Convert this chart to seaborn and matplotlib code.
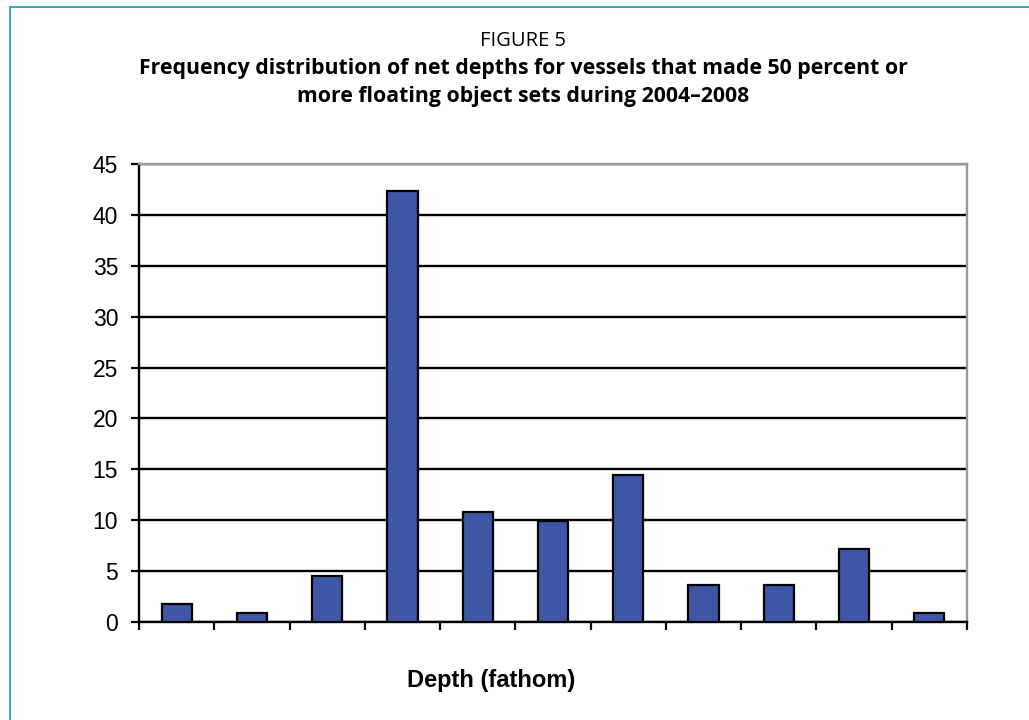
import matplotlib
matplotlib.use("Agg")
import matplotlib.pyplot as plt
from matplotlib.lines import Line2D
import numpy as np
import pandas as pd
import seaborn as sns

# Net depth classes (ordered bins) and share of vessels in each, percent
depth_bins = ["1", "2", "3", "4", "5", "6", "7", "8", "9", "10", "11"]
vessel_share = [1.8, 0.9, 4.5, 42.3, 10.8, 9.9, 14.4, 3.6, 3.6, 7.2, 0.9]
y_ticks = [0, 5, 10, 15, 20, 25, 30, 35, 40, 45]

title_top = "FIGURE 5"
title_lines = ["Frequency distribution of net depths for vessels that made 50 percent or",
               "more floating object sets during 2004\u20132008"]
x_label = "Depth (fathom)"

sns.set_style("white")
plt.rcParams["font.family"] = ["Liberation Sans", "DejaVu Sans"]
plt.rcParams["text.color"] = "black"
plt.rcParams["axes.labelcolor"] = "black"
plt.rcParams["xtick.color"] = "black"
plt.rcParams["ytick.color"] = "black"

df = pd.DataFrame({"depth": depth_bins, "share": vessel_share})

fig = plt.figure(figsize=(10.29, 7.2), dpi=100)
ax = fig.add_axes([139 / 1029, 1 - 622 / 720, (967 - 139) / 1029, (622 - 164) / 720])

sns.barplot(data=df, x="depth", y="share", color="#3D56A5", saturation=1,
            width=0.4, edgecolor="black", linewidth=1.6, ax=ax, zorder=3)

ax.set_xlim(-0.5, len(depth_bins) - 0.5)
ax.set_ylim(0, 45)
ax.set_yticks(y_ticks)
ax.set_yticklabels([str(v) for v in y_ticks], fontsize=16.5, color="black")
ax.set_xticks(np.arange(-0.5, len(depth_bins)))
ax.set_xticklabels([])
ax.set_xlabel("")
ax.set_ylabel("")

ax.set_axisbelow(True)
ax.yaxis.grid(True, color="black", linewidth=1.7)
ax.xaxis.grid(False)

ax.tick_params(axis="y", direction="out", length=6, width=1.6, color="black", pad=9, left=True)
ax.tick_params(axis="x", direction="out", length=5.5, width=1.6, color="black", bottom=True)

for side in ("left", "bottom"):
    ax.spines[side].set_color("black")
    ax.spines[side].set_linewidth(1.7)
for side in ("top", "right"):
    ax.spines[side].set_visible(True)
    ax.spines[side].set_color("#999999")
    ax.spines[side].set_linewidth(1.7)

# Titles
cx = 523 / 1029
title_font = ["Open Sans", "DejaVu Sans"]
fig.text(cx, 1 - 46 / 720, title_top, ha="center", va="baseline",
         fontsize=14.5, family=title_font, color="black")
for line, base in zip(title_lines, (74, 102)):
    fig.text(cx, 1 - base / 720, line, ha="center", va="baseline",
             fontsize=15.3, fontweight="bold", family=title_font, color="black")

fig.text(491 / 1029, 1 - 687 / 720, x_label, ha="center", va="baseline",
         fontsize=17, fontweight="bold", color="black")

# Teal frame (top and left edges)
frame_color = "#3AAFAA"
fig.add_artist(Line2D([9.5 / 1029, 1.0], [1 - 6.5 / 720, 1 - 6.5 / 720],
                      transform=fig.transFigure, color=frame_color, linewidth=1.5))
fig.add_artist(Line2D([9.5 / 1029, 9.5 / 1029], [0.0, 1 - 6.5 / 720],
                      transform=fig.transFigure, color=frame_color, linewidth=1.5))

fig.savefig("out.png", dpi=100, facecolor="white")
